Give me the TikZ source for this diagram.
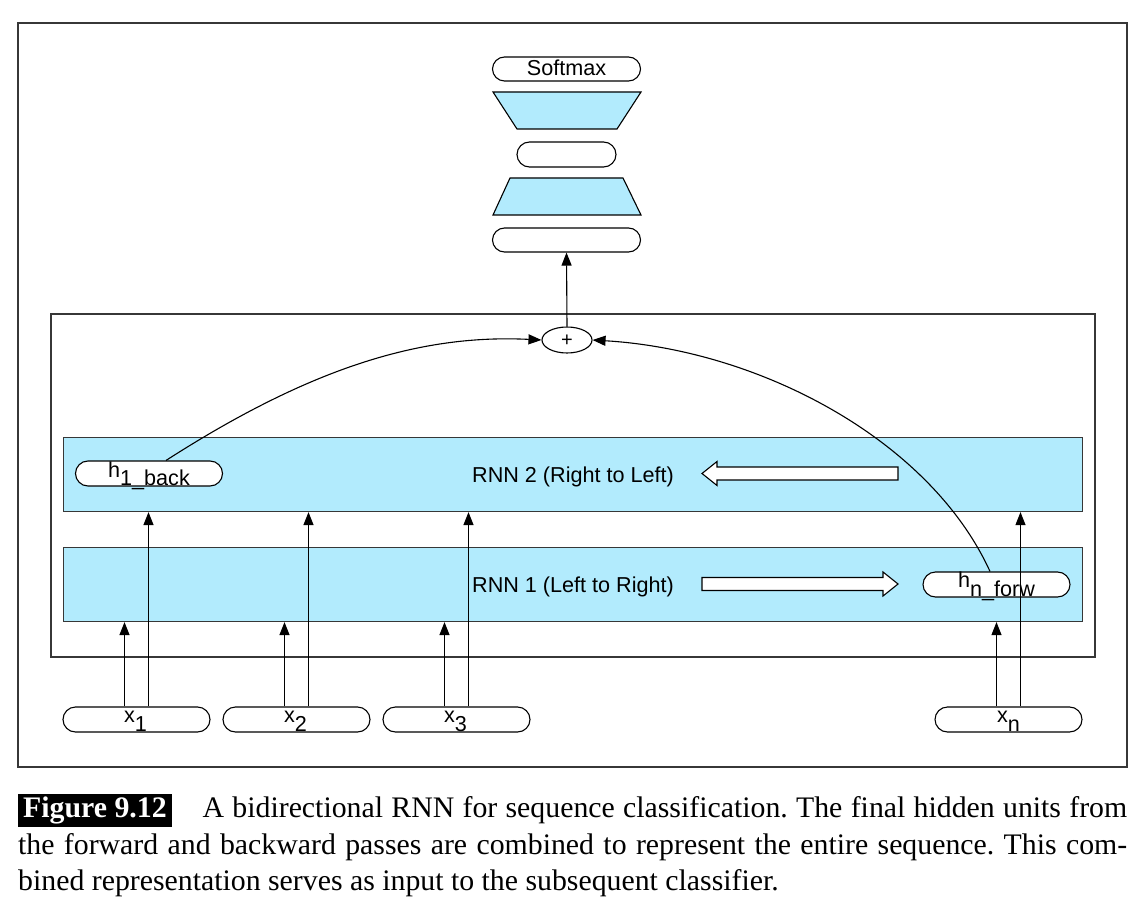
\documentclass[tikz,border=0pt]{standalone}
\usepackage{fontspec}
\setmainfont{Liberation Serif}
\newfontfamily\diagfont{Liberation Sans}
\usetikzlibrary{arrows.meta,shapes.misc,shapes.geometric}
\definecolor{rnnblue}{RGB}{178,235,253}
\definecolor{framegray}{RGB}{55,55,55}
\begin{document}
\frenchspacing
\begin{tikzpicture}[x=1pt,y=-1pt,
  pill/.style={rounded rectangle, draw=black, fill=white, line width=1.1pt,
    minimum width=147pt, minimum height=25pt, inner sep=0pt},
  lbl/.style={font=\diagfont\fontsize{21.6}{25}\selectfont, inner sep=0pt, anchor=base},
  arr/.style={-{Triangle[length=13pt,width=10pt]}, line width=1.1pt},
  band/.style={rectangle, draw=framegray, fill=rnnblue, line width=1.1pt,
    minimum width=1019pt, minimum height=74pt, inner sep=0pt, anchor=north west},
  hollow/.style={draw=black, fill=white, line width=1.1pt, line join=miter},
  trap/.style={draw=black, fill=rnnblue, line width=1.1pt},
  frame/.style={draw=framegray, line width=1.5pt},
  captxt/.style={anchor=base west, inner sep=0pt, font=\fontsize{29.8}{36.7}\selectfont}]
\useasboundingbox (0,0) rectangle (1148,909);
\fill[white] (0,0) rectangle (1148,909);

% frames
\draw[frame] (18,23) rectangle (1127,767);
\draw[frame] (51,314) rectangle (1095,657);

% classifier stack
\node[pill, minimum width=148pt, minimum height=24pt] (softmax) at (566.5,69) {};
\node[lbl] (softmaxtxt) at (566.5,75.5) {Softmax};
\draw[trap] (493,92) -- (641,92) -- (617,129) -- (517,129) -- cycle;
\node[pill, minimum width=99pt, minimum height=25pt] (hid1) at (566.5,154.5) {};
\draw[trap] (510,178) -- (623,178) -- (641,215) -- (493,215) -- cycle;
\node[pill, minimum width=148pt, minimum height=24pt] (hid2) at (566.5,240) {};

% plus
\node[ellipse, draw=black, fill=white, line width=1.1pt, minimum width=50pt,
  minimum height=26pt, inner sep=0pt] (plus) at (567,340) {};
\node[font=\diagfont\fontsize{20}{22}\selectfont, inner sep=0pt] (plustxt) at (567,341) {+};
\draw[arr] (plus.north) -- (hid2.south);

% RNN bands
\node[band] (rnn2) at (63,437) {};
\node[band] (rnn1) at (63,547) {};
\node[lbl, anchor=base west] (rnn2txt) at (472,482) {RNN 2 (Right to Left)};
\node[lbl, anchor=base west] (rnn1txt) at (472,592) {RNN 1 (Left to Right)};

% hollow direction arrows
\draw[hollow] (702,473.5) -- (717,461.5) -- (717,467) -- (898,467) -- (898,480)
  -- (717,480) -- (717,485.5) -- cycle;
\draw[hollow] (702,577.5) -- (883,577.5) -- (883,572) -- (898,584) -- (883,596)
  -- (883,590.5) -- (702,590.5) -- cycle;

% hidden state pills
\node[pill] (h1) at (149,473.5) {};
\node[lbl] (h1txt) at (149,477) {h\raisebox{-8pt}{1\_back}};
\node[pill] (hn) at (996.5,584.5) {};
\node[lbl] (hntxt) at (996.5,587) {h\raisebox{-9pt}{n\_forw}};

% inputs
\node[pill] (x1) at (136.5,719.5) {};
\node[pill] (x2) at (296.5,719.5) {};
\node[pill] (x3) at (456.5,719.5) {};
\node[pill] (xn) at (1008.5,719.5) {};
\node[lbl] (x1txt) at (135.5,722) {x\raisebox{-9pt}{1}};
\node[lbl] (x2txt) at (295.5,722) {x\raisebox{-9pt}{2}};
\node[lbl] (x3txt) at (455.5,722) {x\raisebox{-9pt}{3}};
\node[lbl] (xntxt) at (1008.5,722) {x\raisebox{-9pt}{n}};

% input arrows
\foreach \n in {x1,x2,x3,xn}{
  \draw[arr] ([xshift=-12pt]\n.north) -- ([xshift=-12pt]\n.north |- rnn1.south);
  \draw[arr] ([xshift=12pt]\n.north) -- ([xshift=12pt]\n.north |- rnn2.south);
}

% combination curves
\draw[arr] ([xshift=17pt]h1.north) .. controls (310,368) and (420,334) .. (plus.west);
\draw[arr] ([xshift=-6.5pt]hn.north) .. controls (930,440) and (760,350) .. (plus.east);

% caption
\node[captxt] (cap1) at (18,817) {\makebox[1109pt][s]{{\setlength\fboxsep{0pt}\colorbox{black}{\rule[-10pt]{0pt}{33pt}\hspace{5pt}\textcolor{white}{\bfseries Figure 9.12}\hspace{5pt}}}\hspace{31pt}A bidirectional RNN for sequence classification. The final hidden units from}};
\node[captxt] (cap2) at (18,854) {\makebox[1109pt][s]{the forward and backward passes are combined to represent the entire sequence. This com-}};
\node[captxt] (cap3) at (18,890.5) {bined representation serves as input to the subsequent classifier.};
\end{tikzpicture}
\end{document}
